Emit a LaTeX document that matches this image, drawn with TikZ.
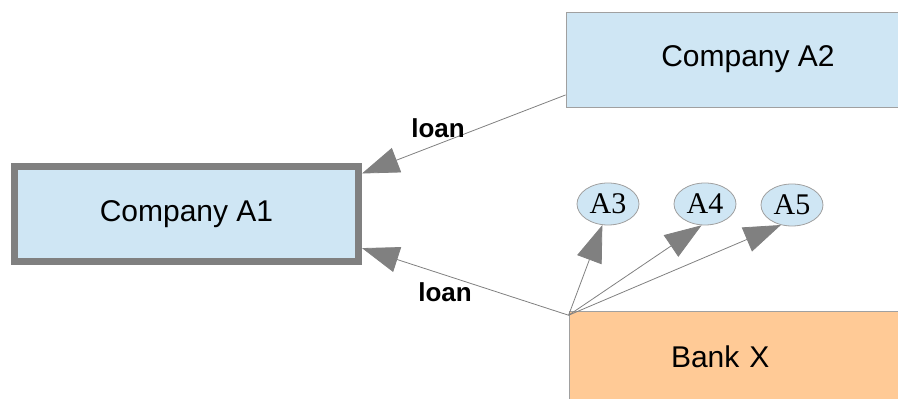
\documentclass[tikz,border=0pt]{standalone}
\usepackage{fontspec}
\setmainfont{Liberation Serif}
\setsansfont{Liberation Sans}
\usetikzlibrary{arrows.meta,shapes.geometric}
\definecolor{boxblue}{HTML}{CFE6F4}
\definecolor{bankorange}{HTML}{FFCA96}
\definecolor{edgegray}{HTML}{808080}
\definecolor{framegray}{HTML}{A0A0A0}

\begin{document}
\begin{tikzpicture}[x=1pt,y=1pt,
  company/.style={draw=framegray,fill=boxblue,line width=0.8pt,minimum height=95pt,
    font=\sffamily\fontsize{30}{36}\selectfont},
  bankbox/.style={draw=framegray,fill=bankorange,line width=0.8pt,minimum height=92pt,
    font=\sffamily\fontsize{30}{36}\selectfont},
  holder/.style={ellipse,draw=framegray,fill=boxblue,line width=0.8pt,inner sep=0pt,
    minimum width=62pt,minimum height=42pt,font=\fontsize{30}{36}\selectfont},
  loanlbl/.style={anchor=base,font=\sffamily\bfseries\fontsize{26}{30}\selectfont},
  loanarrow/.style={draw=edgegray,line width=0.8pt,-{Triangle[length=37pt,width=26pt]}}]
\clip (0,0) rectangle (898,399);
\node[company,draw=edgegray,line width=7pt,minimum width=344pt] (a1) at (186.5,185) {Company A1};
\node[company,minimum width=364pt] (a2) at (748,339.5) {Company A2};
\node[bankbox,text width=157pt,inner xsep=102pt,align=left] (bank) at (749.5,42) {Bank X};
\node[holder] (a3) at (608,195) {A3};
\node[holder] (a4) at (705,195) {A4};
\node[holder] (a5) at (792,194) {A5};
\draw[loanarrow] (a2.191.3) -- (a1.13.5);
\draw[loanarrow] (bank.167.4) -- (a1.-11.6);
\draw[loanarrow] (bank.167.4) -- (a3.-105);
\draw[loanarrow] (bank.167.4) -- (a4.-99.5);
\draw[loanarrow] (bank.167.4) -- (a5.-119);
\node[loanlbl] (l1) at (438,261) {loan};
\node[loanlbl] (l2) at (445,97) {loan};
\end{tikzpicture}
\end{document}
